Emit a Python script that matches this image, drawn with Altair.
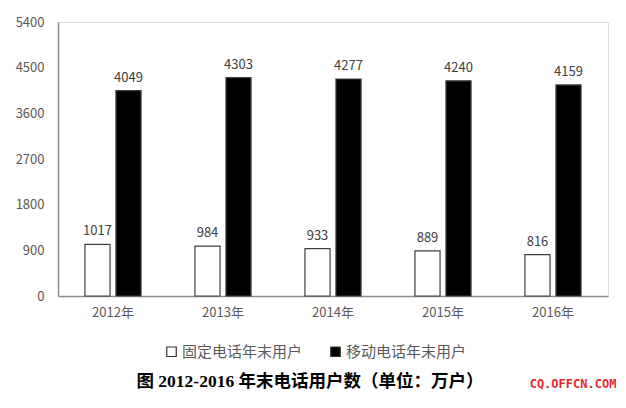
import altair as alt
import pandas as pd

years = ["2012年", "2013年", "2014年", "2015年", "2016年"]
fixed = [1017, 984, 933, 889, 816]
mobile = [4049, 4303, 4277, 4240, 4159]
series = ["固定电话年末用户", "移动电话年末用户"]
y_ticks = [0, 900, 1800, 2700, 3600, 4500, 5400]
caption = "图 2012-2016 年末电话用户数（单位：万户）"
watermark = ["CQ.OFFCN.COM"]

rows = []
for i, yr in enumerate(years):
    rows.append({"year": yr, "series": series[0], "value": fixed[i]})
    rows.append({"year": yr, "series": series[1], "value": mobile[i]})
df = pd.DataFrame(rows)

font = "Noto Sans CJK SC"
gray = "#595959"

base = alt.Chart(df).encode(
    x=alt.X(
        "year:N", sort=years,
        scale=alt.Scale(paddingInner=0.49, paddingOuter=0.245),
        axis=alt.Axis(title=None, labelAngle=0, ticks=False, domainColor="#8c8c8c",
                      domainWidth=1.5, labelColor=gray, labelFontSize=13,
                      labelPadding=10, labelFont=font),
    ),
    xOffset=alt.XOffset("series:N", sort=series,
                        scale=alt.Scale(paddingInner=0.19, paddingOuter=0)),
)

bars = base.mark_bar(stroke="#404040", strokeWidth=1.2).encode(
    y=alt.Y(
        "value:Q",
        scale=alt.Scale(domain=[0, 5400], nice=False),
        axis=alt.Axis(values=y_ticks, format="d", title=None, grid=False, ticks=False,
                      domainColor="#8c8c8c", domainWidth=1.5, labelColor=gray,
                      labelFontSize=13, labelPadding=14, labelFont=font),
    ),
    fill=alt.Fill(
        "series:N", sort=series,
        scale=alt.Scale(domain=series, range=["#ffffff", "#000000"]),
        legend=alt.Legend(orient="none", legendX=106, legendY=322,
                          direction="horizontal", title=None, symbolType="square",
                          symbolSize=90, symbolStrokeColor="#333333",
                          symbolStrokeWidth=1.2, labelFontSize=15, labelColor=gray,
                          columnPadding=25, labelOffset=3, labelFont=font),
    ),
)

labels = base.mark_text(baseline="bottom", dy=-6, fontSize=13, color="#404040",
                        font=font).encode(
    y=alt.Y("value:Q"),
    text=alt.Text("value:Q"),
)

wm = alt.Chart(pd.DataFrame({"t": watermark})).mark_text(
    font="DejaVu Sans Mono", fontSize=12, fontWeight="bold", color="#e8262b",
    align="center", baseline="bottom",
).encode(text="t:N", x=alt.value(515), y=alt.value(369))

chart = alt.layer(bars, labels, wm).properties(
    width=550, height=274,
    autosize=alt.AutoSizeParams(type="none"),
    padding={"left": 50, "top": 14, "right": 10, "bottom": 96},
    title=alt.TitleParams(text=caption, orient="bottom", anchor="middle",
                          font="Liberation Serif, Noto Sans CJK SC", fontSize=17.5,
                          fontWeight="bold", color="#000000", dx=-23, offset=-17),
).configure_view(stroke=None).configure(background="white")

chart.save("out.html", embed_options={"renderer": "svg", "actions": False})
